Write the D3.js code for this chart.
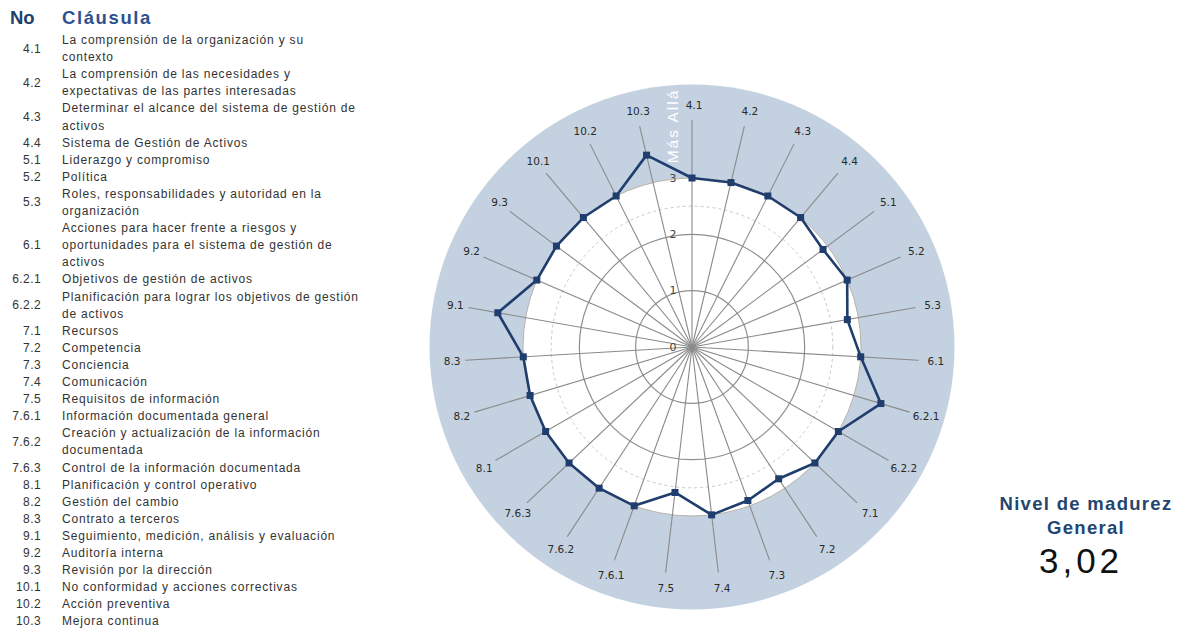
<!DOCTYPE html>
<html><head><meta charset="utf-8">
<script src="https://cdn.jsdelivr.net/npm/d3@7"></script>
<style>html,body{margin:0;padding:0;background:#fff;}</style>
</head><body>
<svg id="chart" width="1190" height="633"></svg>
<script>
// ---- data ----
const clauses = ["4.1","4.2","4.3","4.4","5.1","5.2","5.3","6.1","6.2.1","6.2.2","7.1","7.2","7.3","7.4","7.5","7.6.1","7.6.2","7.6.3","8.1","8.2","8.3","9.1","9.2","9.3","10.1","10.2","10.3"];
const descriptions = [
  ["La comprensión de la organización y su","contexto"],
  ["La comprensión de las necesidades y","expectativas de las partes interesadas"],
  ["Determinar el alcance del sistema de gestión de","activos"],
  ["Sistema de Gestión de Activos"],
  ["Liderazgo y compromiso"],
  ["Política"],
  ["Roles, responsabilidades y autoridad en la","organización"],
  ["Acciones para hacer frente a riesgos y","oportunidades para el sistema de gestión de","activos"],
  ["Objetivos de gestión de activos"],
  ["Planificación para lograr los objetivos de gestión","de activos"],
  ["Recursos"],["Competencia"],["Conciencia"],["Comunicación"],["Requisitos de información"],
  ["Información documentada general"],
  ["Creación y actualización de la información","documentada"],
  ["Control de la información documentada"],
  ["Planificación y control operativo"],["Gestión del cambio"],["Contrato a terceros"],
  ["Seguimiento, medición, análisis y evaluación"],["Auditoría interna"],["Revisión por la dirección"],
  ["No conformidad y acciones correctivas"],["Acción preventiva"],["Mejora continua"]
];
const maturity = [3.0,3.0,3.0,3.0,2.9,3.0,2.8,3.0,3.5,3.0,3.0,2.8,2.9,3.0,2.6,3.0,3.0,3.0,3.0,3.0,3.0,3.5,3.0,3.0,3.0,3.0,3.5];
const radialTicks = [0,1,2,3];
const dashedTicks = [2.5];
const bandName = "Más Allá";
const bandFrom = 3, bandTo = 4.66;
const overallLabel = ["Nivel de madurez","General"];
const overallValue = "3,02";

// ---- layout ----
const svg = d3.select("#chart");
const cx = 692, cy = 347;
const r = d3.scaleLinear().domain([0,3]).range([0,169]);
const ang = d3.scaleLinear().domain([0, clauses.length]).range([0, 2*Math.PI]);
const pt = (i, v) => [cx + r(v)*Math.sin(ang(i)), cy - r(v)*Math.cos(ang(i))];

const g = svg.append("g");
// outer band
g.append("circle").attr("cx",cx).attr("cy",cy).attr("r",r(bandTo)).attr("fill","#c4d1e0");
g.append("circle").attr("cx",cx).attr("cy",cy).attr("r",r(bandFrom)).attr("fill","#ffffff").attr("stroke","#b9b3a8").attr("stroke-width",1);
// dashed rings
g.selectAll(".dring").data(dashedTicks).join("circle").attr("cx",cx).attr("cy",cy).attr("r",d=>r(d))
  .attr("fill","none").attr("stroke","#c8c8c8").attr("stroke-width",1).attr("stroke-dasharray","3,3");
// solid rings
g.selectAll(".ring").data(radialTicks.filter(d=>d>0 && d<3)).join("circle").attr("cx",cx).attr("cy",cy).attr("r",d=>r(d))
  .attr("fill","none").attr("stroke","#8f8f8f").attr("stroke-width",1.2);
// spokes
g.selectAll(".spoke").data(clauses).join("line")
  .attr("x1",cx).attr("y1",cy)
  .attr("x2",(d,i)=>pt(i,4.03)[0]).attr("y2",(d,i)=>pt(i,4.03)[1])
  .attr("stroke","#8a8a8a").attr("stroke-width",1.1);
// radial tick labels
g.selectAll(".rt").data(radialTicks).join("text")
  .attr("x",cx-19).attr("y",d=>cy - r(d)).attr("text-anchor","middle").attr("dominant-baseline","central")
  .attr("font-family","DejaVu Sans, sans-serif").attr("font-size",11).attr("fill","#444").text(d=>d);
// band name
g.append("text").attr("transform",`translate(${cx-20},126) rotate(-90)`)
  .attr("text-anchor","middle").attr("dominant-baseline","central")
  .attr("font-family","Liberation Sans, Arial, sans-serif").attr("font-size",15.5).attr("letter-spacing",2)
  .attr("fill","#ffffff").text(bandName);
// category labels
g.selectAll(".cl").data(clauses).join("text")
  .attr("x",(d,i)=>pt(i,4.3)[0] + 2).attr("y",(d,i)=>pt(i,4.3)[1])
  .attr("text-anchor","middle").attr("dominant-baseline","central")
  .attr("font-family","DejaVu Sans, sans-serif").attr("font-size",10.5).attr("fill","#2a2a2a").text(d=>d);
// series line
const line = d3.line().curve(d3.curveLinearClosed);
g.append("path").attr("d", line(maturity.map((v,i)=>pt(i,v))))
  .attr("fill","none").attr("stroke","#1f3d6d").attr("stroke-width",2.6).attr("stroke-linejoin","round");
g.selectAll(".mk").data(maturity).join("rect")
  .attr("x",(v,i)=>pt(i,v)[0]-3.5).attr("y",(v,i)=>pt(i,v)[1]-3.5).attr("width",7).attr("height",7)
  .attr("fill","#1f3d6d");

// ---- table ----
const t = svg.append("g");
t.append("text").attr("x",10).attr("y",17).attr("dominant-baseline","central")
  .attr("font-family","Liberation Sans, Arial, sans-serif").attr("font-weight","bold").attr("font-size",18.5)
  .attr("fill","#213f6b").text("No");
t.append("text").attr("x",62).attr("y",17).attr("dominant-baseline","central")
  .attr("font-family","Liberation Sans, Arial, sans-serif").attr("font-weight","bold").attr("font-size",18.5)
  .attr("letter-spacing",1.6).attr("fill","#2e5090").text("Cláusula");
const y0 = 40, lh = 17.1;
let lineIdx = 0;
clauses.forEach((c,i)=>{
  const lines = descriptions[i];
  const first = lineIdx;
  lines.forEach((ln,k)=>{
    t.append("text").attr("x",62).attr("y",y0 + (lineIdx)*lh).attr("dominant-baseline","central")
      .attr("font-family","Liberation Sans, Arial, sans-serif").attr("font-size",12).attr("letter-spacing",0.8)
      .attr("fill","#333").text(ln);
    lineIdx++;
  });
  const mid = y0 + ((first + lineIdx - 1)/2)*lh;
  t.append("text").attr("x",41).attr("y",mid).attr("text-anchor","end").attr("dominant-baseline","central")
    .attr("font-family","Liberation Sans, Arial, sans-serif").attr("font-size",12).attr("letter-spacing",0.4)
    .attr("fill","#333").text(c);
});

// ---- overall ----
const o = svg.append("g");
o.selectAll(".ol").data(overallLabel).join("text")
  .attr("x",1086).attr("y",(d,i)=>503 + i*24).attr("text-anchor","middle").attr("dominant-baseline","central")
  .attr("font-family","Liberation Sans, Arial, sans-serif").attr("font-weight","bold").attr("font-size",18.5)
  .attr("letter-spacing",1.3).attr("fill","#24456f").text(d=>d);
o.append("text").attr("x",1081).attr("y",560).attr("text-anchor","middle").attr("dominant-baseline","central")
  .attr("font-family","Liberation Sans, Arial, sans-serif").attr("font-size",35).attr("letter-spacing",4)
  .attr("fill","#111").text(overallValue);
</script>
</body></html>
